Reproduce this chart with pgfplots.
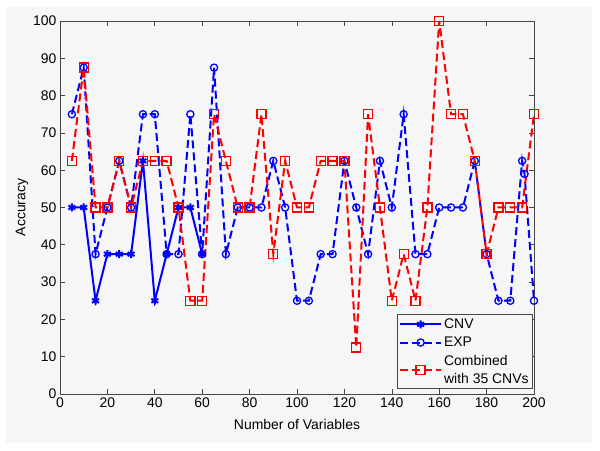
\documentclass[border=0pt]{standalone}
\usepackage{fontspec}
\setmainfont{Liberation Sans}
\usepackage{pgfplots}
\pgfplotsset{compat=1.18}
\definecolor{figbg}{RGB}{246,246,246}
\definecolor{axgray}{RGB}{70,70,70}

\begin{document}
\begin{tikzpicture}
\useasboundingbox (-60bp,-57bp) rectangle (540bp,394bp);
\fill[figbg] (-54bp,-49bp) rectangle (532bp,387bp);
\begin{axis}[
    scale only axis,
    width=474bp, height=373bp,
    xmin=0, xmax=200, ymin=0, ymax=100,
    xtick={0,20,...,200},
    ytick={0,10,...,100},
    tick align=inside,
    major tick length=5bp,
    axis line style={axgray, line width=0.6bp},
    every tick/.style={axgray, line width=0.6bp},
    font=\fontsize{14}{17}\selectfont,
    /pgf/number format/assume math mode=true,
    xlabel={Number of Variables},
    ylabel={Accuracy},
    xlabel style={at={(axis description cs:0.5,-0.083)}, anchor=center},
    ylabel style={at={(axis description cs:-0.080,0.5)}, anchor=center},
    legend style={at={(1,0)}, anchor=south east, xshift=-1bp, yshift=5bp,
        draw=axgray, fill=figbg, line width=0.8bp,
        font=\fontsize{14}{18}\selectfont,
        cells={align=left, anchor=west},
        row sep=3bp, inner sep=2bp},
    legend image code/.code={
        \draw[mark repeat=2, mark phase=2] plot coordinates {(0bp,0bp) (20.5bp,0bp) (41bp,0bp)};
    },
    legend cell align=left,
]
\addplot[blue, line width=2bp, mark=asterisk, mark size=4bp,
    mark options={solid, line width=2bp}] coordinates {
    (5,50) (10,50) (15,25) (20,37.5) (25,37.5) (30,37.5) (35,62.5)
    (40,25) (45,37.5) (50,50) (55,50) (60,37.5)
};
\addlegendentry{CNV}
\addplot[blue, line width=2bp, dash pattern=on 8bp off 4bp, mark=o, mark size=3.6bp,
    mark options={solid, line width=1.3bp}] coordinates {
    (5,75) (10,87.5) (15,37.5) (20,50) (25,62.5) (30,50) (35,75) (40,75)
    (45,37.5) (50,37.5) (55,75) (60,37.5) (65,87.5) (70,37.5) (75,50)
    (80,50) (85,50) (90,62.5) (95,50) (100,25) (105,25) (110,37.5)
    (115,37.5) (120,62.5) (125,50) (130,37.5) (135,62.5) (140,50)
    (145,75) (150,37.5) (155,37.5) (160,50) (165,50) (170,50) (175,62.5)
    (180,37.5) (185,25) (190,25) (195,62.5) (196,59) (200,25)
};
\addlegendentry{EXP}
\addplot[red, line width=2bp, dash pattern=on 8bp off 4bp, mark=square, mark size=4.5bp,
    mark options={solid, line width=1.3bp}] coordinates {
    (5,62.5) (10,87.5) (15,50) (20,50) (25,62.5) (30,50) (35,62.5)
    (40,62.5) (45,62.5) (50,50) (55,25) (60,25) (65,75) (70,62.5)
    (75,50) (80,50) (85,75) (90,37.5) (95,62.5) (100,50) (105,50)
    (110,62.5) (115,62.5) (120,62.5) (125,12.5) (130,75) (135,50)
    (140,25) (145,37.5) (150,25) (155,50) (160,100) (165,75) (170,75)
    (175,62.5) (180,37.5) (185,50) (190,50) (195,50) (200,75)
};
\addlegendentry{Combined\\with 35 CNVs}
\end{axis}
\end{tikzpicture}
\end{document}
